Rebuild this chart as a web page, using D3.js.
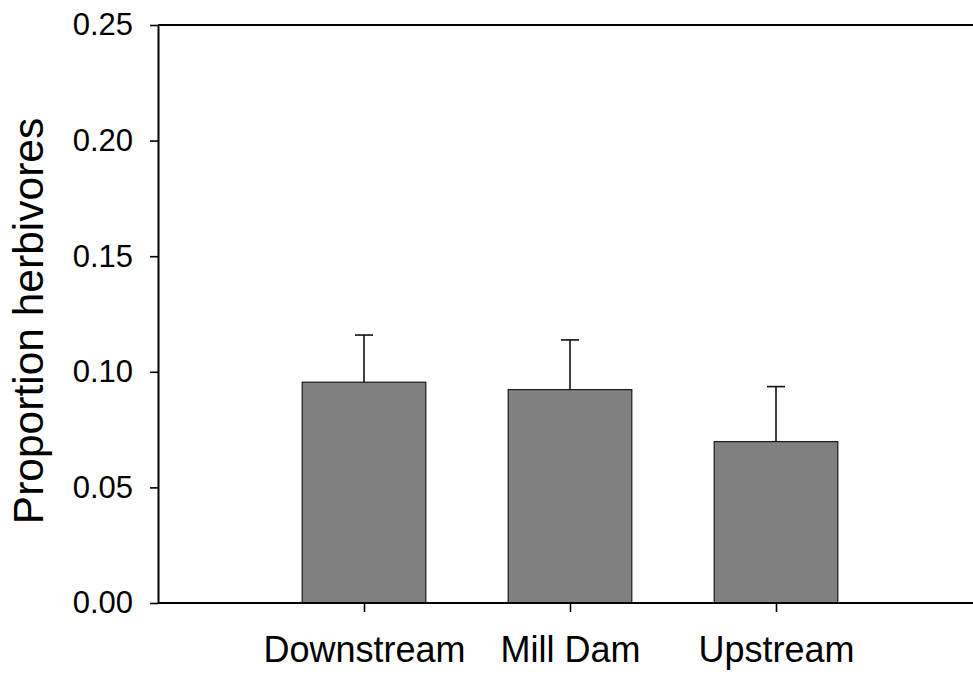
<!DOCTYPE html>
<html>
<head>
<meta charset="utf-8">
<script src="https://cdn.jsdelivr.net/npm/d3@7"></script>
<style>
  html, body { margin: 0; padding: 0; background: #fff; }
  svg { display: block; font-family: "Liberation Sans", Arial, sans-serif; }
</style>
</head>
<body>
<svg id="chart" width="973" height="675"></svg>
<script>
const categories = ["Downstream", "Mill Dam", "Upstream"];
const means = [0.0955, 0.0923, 0.0698];
const errors = [0.0204, 0.0215, 0.0238];
const yTicks = [0.00, 0.05, 0.10, 0.15, 0.20, 0.25];
const yLabel = "Proportion herbivores";

const svg = d3.select("#chart");
const m = { left: 158, top: 25, right: 982, bottom: 603 };

const y = d3.scaleLinear().domain([0, 0.25]).range([m.bottom, m.top]);
const step = (m.right - m.left) / (categories.length + 1);
const x = d3.scalePoint().domain(categories).range([m.left + step, m.right - step]);
const barW = step * 0.6;

// bars
svg.append("g").selectAll("rect").data(categories).join("rect")
  .attr("x", d => x(d) - barW / 2)
  .attr("y", (d, i) => y(means[i]))
  .attr("width", barW)
  .attr("height", (d, i) => y(0) - y(means[i]))
  .attr("fill", "#808080")
  .attr("stroke", "#1a1a1a")
  .attr("stroke-width", 1.2);

// error bars (upper only)
const eb = svg.append("g").attr("stroke", "#111").attr("stroke-width", 1.6);
categories.forEach((c, i) => {
  eb.append("line")
    .attr("x1", x(c)).attr("x2", x(c))
    .attr("y1", y(means[i])).attr("y2", y(means[i] + errors[i]));
  eb.append("line")
    .attr("x1", x(c) - 9).attr("x2", x(c) + 9)
    .attr("y1", y(means[i] + errors[i])).attr("y2", y(means[i] + errors[i]));
});

// top frame line
svg.append("line")
  .attr("x1", m.left).attr("x2", m.right)
  .attr("y1", y(0.25)).attr("y2", y(0.25))
  .attr("stroke", "#000").attr("stroke-width", 2);

// left axis
const gy = svg.append("g")
  .attr("transform", `translate(${m.left},0)`)
  .call(d3.axisLeft(y).tickValues(yTicks).tickFormat(d3.format(".2f"))
    .tickSize(8).tickSizeOuter(0).tickPadding(17));
gy.select(".domain").attr("stroke-width", 2);
gy.selectAll(".tick line").attr("stroke-width", 1.6);
gy.selectAll(".tick text").attr("font-size", 31).attr("fill", "#000")
  .style("font-family", "'Liberation Sans', Arial, sans-serif");

// bottom axis
const gx = svg.append("g")
  .attr("transform", `translate(0,${m.bottom})`)
  .call(d3.axisBottom(x).tickSize(9).tickSizeOuter(0).tickPadding(24));
gx.select(".domain").attr("stroke-width", 2)
  .attr("d", `M${m.left},0H${m.right}`);
gx.selectAll(".tick line").attr("stroke-width", 1.6);
gx.selectAll(".tick text").attr("font-size", 36).attr("fill", "#000")
  .style("font-family", "'Liberation Sans', Arial, sans-serif");

// y label
svg.append("text")
  .attr("transform", `translate(43,321) rotate(-90)`)
  .attr("text-anchor", "middle")
  .attr("font-size", 42.5)
  .attr("fill", "#000")
  .text(yLabel);
</script>
</body>
</html>
